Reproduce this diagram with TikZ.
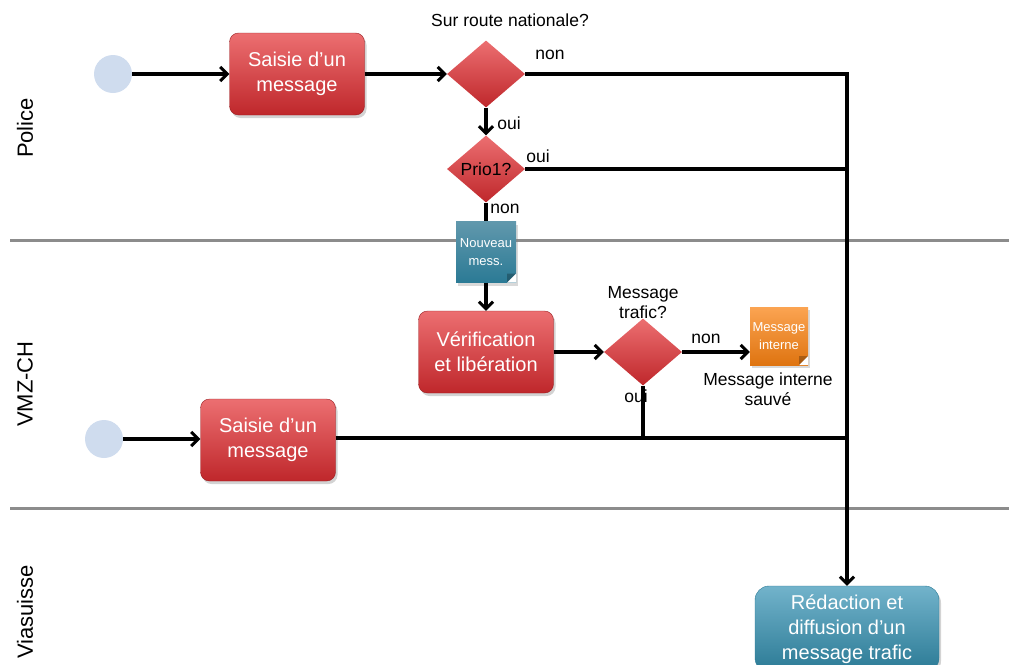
\documentclass[tikz,border=0pt]{standalone}
\usepackage{fontspec}
\setmainfont{Liberation Sans}
\usetikzlibrary{shapes.geometric,shadows,arrows.meta}
\definecolor{redtop}{HTML}{EC6F71}
\definecolor{redbot}{HTML}{BF272B}
\definecolor{bluetop}{HTML}{72B3CB}
\definecolor{bluebot}{HTML}{2B7A95}
\definecolor{orangetop}{HTML}{FBA452}
\definecolor{orangebot}{HTML}{DF7410}
\definecolor{startfill}{HTML}{CFDCEE}
\definecolor{lanegray}{HTML}{8C8C8C}
\begin{document}
\begin{tikzpicture}[x=1pt,y=-1pt,
  flow/.style={line width=3.2pt,-{Straight Barb[length=7pt,width=14pt,line width=3pt]}},
  link/.style={line width=3.2pt},
  lane/.style={line width=3pt,lanegray},
  start/.style={circle,fill=startfill,minimum size=38pt,inner sep=0pt},
  task/.style={rounded corners=9pt,top color=redtop,bottom color=redbot,draw=redbot!80!black,
    minimum width=135pt,minimum height=82pt,align=center,text=white,
    font=\fontsize{20}{25}\selectfont,drop shadow={shadow xshift=2pt,shadow yshift=-3pt,opacity=0.35}},
  bluetask/.style={task,rounded corners=14pt,top color=bluetop,bottom color=bluebot,draw=bluebot},
  decision/.style={diamond,top color=redtop,bottom color=redbot,inner sep=0pt,
    minimum width=78pt,minimum height=67pt,font=\fontsize{17.5}{19}\selectfont},
  docu/.style={minimum width=60pt,minimum height=61pt,inner sep=0pt,align=center,text=white,
    font=\fontsize{13}{18}\selectfont,drop shadow={shadow xshift=2pt,shadow yshift=-3pt,opacity=0.3},
    path picture={\fill[white] ([xshift=-9pt]path picture bounding box.south east) --
      (path picture bounding box.south east) -- ([yshift=9pt]path picture bounding box.south east) -- cycle;
      \fill[black,opacity=0.25] ([xshift=-9pt]path picture bounding box.south east) --
      ([xshift=-9pt,yshift=9pt]path picture bounding box.south east) -- ([yshift=9pt]path picture bounding box.south east) -- cycle;}},
  lbl/.style={font=\fontsize{17.5}{20}\selectfont,align=center,inner sep=0pt},
  lanelbl/.style={font=\fontsize{22}{26}\selectfont,rotate=90,inner sep=0pt}]
\useasboundingbox (0,0) rectangle (1009,664);

% lanes
\draw[lane] (10,240) -- (1009,240);
\draw[lane] (10,508) -- (1009,508);
\node[lanelbl] (police) at (25,128) {Police};
\node[lanelbl] (vmz) at (25,384) {VMZ-CH};
\node[lanelbl] (via) at (25,612) {Viasuisse};

% police
\node[start] (s1) at (113,74) {};
\node[task] (saisie1) at (297,74) {Saisie d’un\\message};
\node[decision] (route) at (486,74) {};
\node[lbl] at (510,20) {Sur route nationale?};
\node[decision] (prio) at (486,169) {Prio1?};

% vmz-ch
\node[docu,top color=bluetop!85!black,bottom color=bluebot] (nouveau) at (486,252) {Nouveau\\mess.};
\node[task] (verif) at (486,352) {Vérification\\et libération};
\node[decision] (trafic) at (643,352) {};
\node[lbl] at (643,303) {Message\\trafic?};
\node[docu,minimum width=58pt,minimum height=58pt,top color=orangetop,bottom color=orangebot] (interne) at (779,336) {Message\\interne};
\node[lbl] at (768,389) {Message interne\\sauvé};
\node[start] (s2) at (104,439) {};
\node[task] (saisie2) at (268,440) {Saisie d’un\\message};

% viasuisse
\node[bluetask,minimum width=184pt,minimum height=86pt] (redaction) at (847,629) {Rédaction et\\diffusion d’un\\message trafic};

\coordinate (j1) at (847,74);
\coordinate (j2) at (847,169);
\coordinate (j3) at (847,438);
\coordinate (j4) at (643,438);

\draw[flow] (s1) -- (saisie1);
\draw[flow] (saisie1.east) -- (route.west);
\draw[flow] (route.south) -- (prio.north);
\node[lbl] at (509,123) {oui};
\draw[flow] (route.east) -- (j1) -- (redaction.north);
\node[lbl] at (550,55) {non};
\draw[link] (prio.east) -- (j2);
\node[lbl] at (538,156) {oui};
\draw[link] (prio.south) -- (nouveau.north);
\node[lbl] at (505,209) {non};
\draw[flow] (nouveau.south) -- (verif.north);
\draw[flow] (verif.east) -- (verif.east -| trafic.west);
\draw[flow] (trafic.east) -- (trafic.east -| interne.west);
\node[lbl] at (706,339) {non};
\draw[link] (trafic.south) -- (j4);
\node[lbl] at (636,396) {oui};
\draw[flow] (s2) -- (s2 -| saisie2.west);
\draw[link] (saisie2.east |- j3) -- (j3);
\end{tikzpicture}
\end{document}
